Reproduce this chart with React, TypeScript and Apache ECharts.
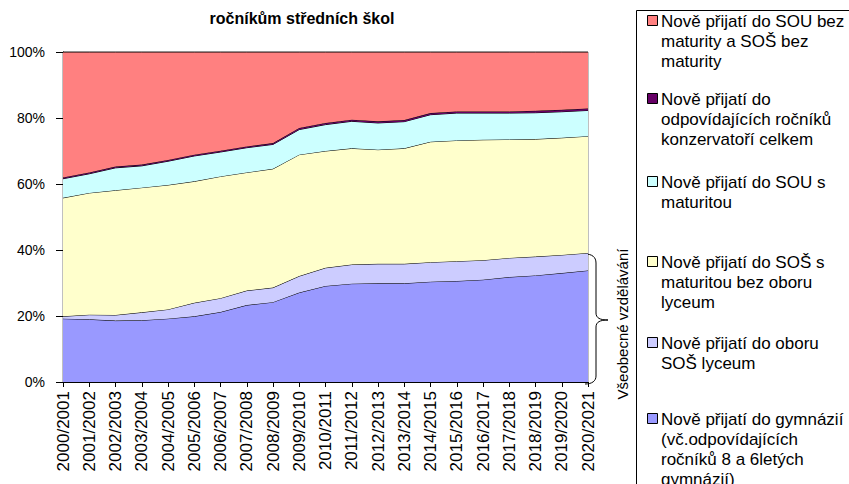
import React, { useEffect, useRef } from "react";
import * as echarts from "echarts";

const years = [
  "2000/2001", "2001/2002", "2002/2003", "2003/2004", "2004/2005", "2005/2006", "2006/2007",
  "2007/2008", "2008/2009", "2009/2010", "2010/2011", "2011/2012", "2012/2013", "2013/2014",
  "2014/2015", "2015/2016", "2016/2017", "2017/2018", "2018/2019", "2019/2020", "2020/2021",
];

const gymnazia = [19.2, 19.0, 18.6, 18.7, 19.2, 19.9, 21.2, 23.3, 24.2, 27.1, 29.1, 29.8, 29.9, 29.9, 30.4, 30.6, 31.0, 31.8, 32.3, 33.0, 33.8];
const lyceum = [0.7, 1.4, 1.7, 2.4, 2.8, 4.1, 4.2, 4.4, 4.4, 5.0, 5.5, 5.8, 5.9, 5.9, 5.9, 6.0, 5.9, 5.8, 5.7, 5.5, 5.3];
const sosMaturita = [35.9, 36.9, 37.8, 37.8, 37.7, 36.8, 36.9, 35.8, 36.0, 36.8, 35.4, 35.2, 34.6, 35.0, 36.5, 36.6, 36.5, 35.9, 35.6, 35.5, 35.4];
const souMaturita = [5.8, 5.8, 6.8, 6.6, 7.2, 7.7, 7.4, 7.5, 7.4, 7.6, 8.0, 8.2, 8.1, 8.1, 8.2, 8.3, 8.1, 8.0, 8.0, 7.9, 7.8];
const konzervatore = [0.4, 0.4, 0.4, 0.4, 0.4, 0.4, 0.4, 0.4, 0.4, 0.5, 0.5, 0.5, 0.5, 0.5, 0.5, 0.5, 0.5, 0.5, 0.6, 0.6, 0.6];
const bezMaturity = [38.0, 36.5, 34.7, 34.1, 32.7, 31.1, 29.9, 28.6, 27.6, 23.0, 21.5, 20.5, 21.0, 20.6, 18.5, 18.0, 18.0, 18.0, 17.8, 17.5, 17.1];

const yTicks = [0, 20, 40, 60, 80, 100];

const seriesNames = [
  "Nově přijatí do gymnázií (vč.odpovídajících ročníků 8 a 6letých gymnázií)",
  "Nově přijatí do oboru SOŠ lyceum",
  "Nově přijatí do SOŠ s maturitou bez oboru lyceum",
  "Nově přijatí do SOU s maturitou",
  "Nově přijatí do odpovídajících ročníků konzervatoří celkem",
  "Nově přijatí do SOU bez maturity a SOŠ bez maturity",
];
const seriesColors = ["#9999FF", "#CCCCFF", "#FFFFCC", "#CCFFFF", "#660066", "#FF8080"];

// legend layout (top to bottom)
const legendItems = [
  { text: "Nově přijatí do SOU bez\nmaturity a SOŠ bez\nmaturity", color: "#FF8080", y: 21 },
  { text: "Nově přijatí do\nodpovídajících ročníků\nkonzervatoří celkem", color: "#660066", y: 99 },
  { text: "Nově přijatí do SOU s\nmaturitou", color: "#CCFFFF", y: 182 },
  { text: "Nově přijatí do SOŠ s\nmaturitou bez oboru\nlyceum", color: "#FFFFCC", y: 262 },
  { text: "Nově přijatí do oboru\nSOŠ lyceum", color: "#CCCCFF", y: 343 },
  { text: "Nově přijatí do gymnázií\n(vč.odpovídajících\nročníků 8 a 6letých\ngymnázií)", color: "#9999FF", y: 419 },
];

const FONT = "'Liberation Sans', Arial, sans-serif";

let braceRegistered = false;
function registerBrace() {
  if (braceRegistered) return;
  braceRegistered = true;
  const d =
    "M585,254 C592,254 596,257 596,263 L596,313 C596,318 600,320 608,320 C600,320 596,322 596,327 L596,376 C596,381 592,384 585,384";
  echarts.graphic.registerShape("brace", echarts.graphic.extendPath(d, {}) as any);
}

export default function App() {
  const ref = useRef<HTMLDivElement>(null);

  useEffect(() => {
    if (!ref.current) return;
    registerBrace();
    const chart = echarts.init(ref.current, null, { renderer: "svg" });
    const data = [gymnazia, lyceum, sosMaturita, souMaturita, konzervatore, bezMaturity];

    const graphics: any[] = [
      {
        type: "rect",
        shape: { x: 636.5, y: 10.5, width: 300, height: 600 },
        style: { fill: "#fff", stroke: "#000", lineWidth: 1 },
        z: 1,
      },
    ];
    legendItems.forEach((it) => {
      graphics.push({
        type: "rect",
        shape: { x: 647.5, y: it.y - 5.5, width: 10, height: 10 },
        style: { fill: it.color, stroke: "#000", lineWidth: 1 },
        z: 2,
      });
      graphics.push({
        type: "text",
        x: 661,
        y: it.y - 10,
        style: {
          text: it.text,
          font: `17px ${FONT}`,
          fill: "#000",
          lineHeight: 20,
          verticalAlign: "top",
          align: "left",
        },
        z: 2,
      });
    });
    graphics.push({
      type: "text",
      x: 622,
      y: 324,
      rotation: Math.PI / 2,
      style: {
        text: "Všeobecné vzdělávání",
        font: `15px ${FONT}`,
        fill: "#000",
        align: "center",
        verticalAlign: "middle",
      },
      z: 3,
    });
    graphics.push({
      type: "brace",
      x: 0,
      y: 0,
      style: { fill: "none", stroke: "#000", lineWidth: 1 },
      z: 3,
    });

    chart.setOption({
      animation: false,
      backgroundColor: "#fff",
      title: {
        text: "ročníkům středních škol",
        left: 297,
        top: 5,
        textAlign: "center",
        textStyle: { fontFamily: FONT, fontSize: 16, fontWeight: "bold", color: "#000" },
      },
      grid: {
        left: 63,
        right: 261,
        top: 52,
        bottom: 102,
        show: true,
        borderColor: "#808080",
        borderWidth: 1,
        backgroundColor: "transparent",
      },
      xAxis: {
        type: "category",
        data: years,
        boundaryGap: false,
        axisLine: { lineStyle: { color: "#000", width: 1 } },
        axisTick: { show: true, length: 5, interval: 0, lineStyle: { color: "#000" } },
        axisLabel: {
          interval: 0,
          rotate: 90,
          margin: 9,
          fontFamily: FONT,
          fontSize: 17,
          color: "#000",
        },
        splitLine: { show: false },
      },
      yAxis: {
        type: "value",
        min: yTicks[0],
        max: yTicks[yTicks.length - 1],
        interval: 20,
        axisLine: { show: true, lineStyle: { color: "#000", width: 1 } },
        axisTick: { show: true, length: 7, lineStyle: { color: "#000" } },
        axisLabel: {
          formatter: "{value}%",
          margin: 18,
          fontFamily: FONT,
          fontSize: 14,
          color: "#000",
        },
        splitLine: { show: false },
      },
      series: data.map((vals, i) => ({
        name: seriesNames[i],
        type: "line",
        stack: "total",
        data: vals,
        symbol: "none",
        smooth: false,
        lineStyle: { color: "#000", width: 1 },
        areaStyle: { color: seriesColors[i], opacity: 1 },
        itemStyle: { color: seriesColors[i] },
        z: 2 + i,
      })),
      graphic: graphics,
    });

    return () => chart.dispose();
  }, []);

  return (
    <div
      ref={ref}
      style={{ position: "fixed", left: 0, top: 0, width: 849, height: 484 }}
    />
  );
}
